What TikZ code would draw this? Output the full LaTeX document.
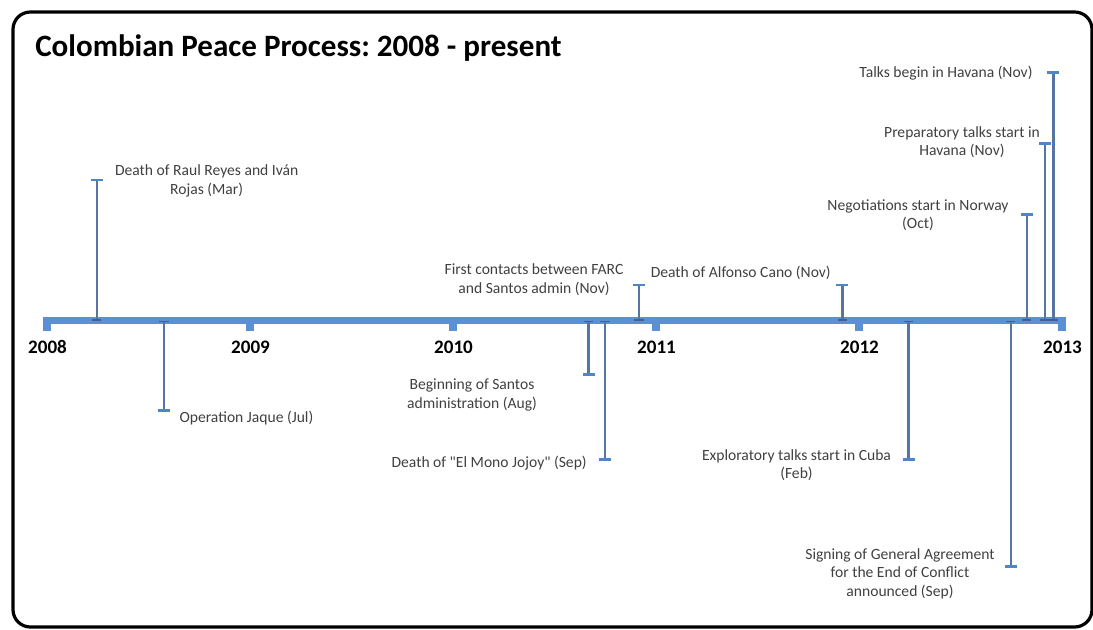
\documentclass[tikz,border=0pt]{standalone}
\usepackage{fontspec}
\setmainfont{Carlito}
\usetikzlibrary{arrows.meta}
\definecolor{barblue}{HTML}{5B8FD6}
\definecolor{stemblue}{HTML}{5575A5}
\definecolor{stemdark}{HTML}{44608A}
\definecolor{capblue}{HTML}{4F86C6}
\definecolor{txtgray}{HTML}{404040}

\begin{document}
\frenchspacing
\begin{tikzpicture}
[x=0.75pt,y=-0.75pt,frame/.style={black,line width=2.4pt,rounded corners=13pt},axisbar/.style={fill=barblue,draw=none},yeartick/.style={fill=barblue,draw=none},stem/.style={stemblue,line width=1.8pt,{Bar[width=7pt,line width=1.1pt,color=stemdark]}-{Bar[width=9pt,line width=2.2pt,color=capblue]}},evlabel/.style={text=txtgray,font=\fontsize{11.7}{13.8}\selectfont,align=center,inner sep=0pt},yearlabel/.style={font=\fontsize{14.3}{16}\selectfont\bfseries,inner sep=0pt},titlelabel/.style={font=\fontsize{23.3}{28}\selectfont\bfseries,inner sep=0pt,anchor=west}]

\useasboundingbox (0,0) rectangle (1093,629);

% frame
\draw[frame] (13,12) rectangle (1092,627);

% title
\node[titlelabel](title) at (35,48){Colombian Peace Process: 2008 - present};

% time axis
\fill[axisbar] (42.7,316.7) rectangle (1066,324.3);
\foreach \yr [count=\i from 0] in {2008,...,2013}{
  \fill[yeartick] (42.7+203*\i,320.5) rectangle (50.7+203*\i,331);
  \node[yearlabel](y\yr) at (47.5+203*\i,347){\yr};
}

% Raul Reyes
\coordinate (reyesbase) at (96.7,320.5);
\coordinate (reyestip) at (96.7,178.5);
\draw[stem] (reyesbase) -- (reyestip);
\node[evlabel](reyes) at (206.7,181){Death of Raul Reyes and Iván\\Rojas (Mar)};

% Operation Jaque
\coordinate (jaquebase) at (164,320.5);
\coordinate (jaquetip) at (164,411.5);
\draw[stem] (jaquebase) -- (jaquetip);
\node[evlabel,anchor=west](jaque) at (179.3,418.5){Operation Jaque (Jul)};

% Santos administration
\coordinate (santosbase) at (588.5,320.5);
\coordinate (santostip) at (588.5,375.7);
\draw[stem] (santosbase) -- (santostip);
\node[evlabel](santos) at (472,395){Beginning of Santos\\administration (Aug)};

% Mono Jojoy
\coordinate (jojoybase) at (605,320.5);
\coordinate (jojoytip) at (605,460.7);
\draw[stem] (jojoybase) -- (jojoytip);
\node[evlabel,anchor=east](jojoy) at (587,463){Death of \textquotedbl El Mono Jojoy\textquotedbl{} (Sep)};

% first contacts
\coordinate (contactbase) at (639,320.5);
\coordinate (contacttip) at (639,283.5);
\draw[stem] (contactbase) -- (contacttip);
\node[evlabel](contact) at (534,279.5){First contacts between FARC\\and Santos admin (Nov)};

% Alfonso Cano
\coordinate (canobase) at (842.3,320.5);
\coordinate (canotip) at (842.3,283.5);
\draw[stem] (canobase) -- (canotip);
\node[evlabel,anchor=east](cano) at (831,272.5){Death of Alfonso Cano (Nov)};

% Cuba
\coordinate (cubabase) at (908.5,320.5);
\coordinate (cubatip) at (908.5,460.7);
\draw[stem] (cubabase) -- (cubatip);
\node[evlabel](cuba) at (796.5,465){Exploratory talks start in Cuba\\(Feb)};

% General Agreement
\coordinate (signbase) at (1010.7,320.5);
\coordinate (signtip) at (1010.7,567.7);
\draw[stem] (signbase) -- (signtip);
\node[evlabel](sign) at (900,573.5){Signing of General Agreement\\for the End of Conflict\\announced (Sep)};

% Norway
\coordinate (norwaybase) at (1026.7,320.5);
\coordinate (norwaytip) at (1026.7,212.7);
\draw[stem] (norwaybase) -- (norwaytip);
\node[evlabel](norway) at (918,215){Negotiations start in Norway\\(Oct)};

% preparatory talks
\coordinate (prepbase) at (1045,320.5);
\coordinate (preptip) at (1045,142.3);
\draw[stem] (prepbase) -- (preptip);
\node[evlabel](prep) at (962,142.2){Preparatory talks start in\\Havana (Nov)};

% Havana talks
\coordinate (havanabase) at (1053.3,320.5);
\coordinate (havanatip) at (1053.3,71);
\draw[stem] (havanabase) -- (havanatip);
\node[evlabel](havana) at (946,73.3){Talks begin in Havana (Nov)};

\end{tikzpicture}
\end{document}
